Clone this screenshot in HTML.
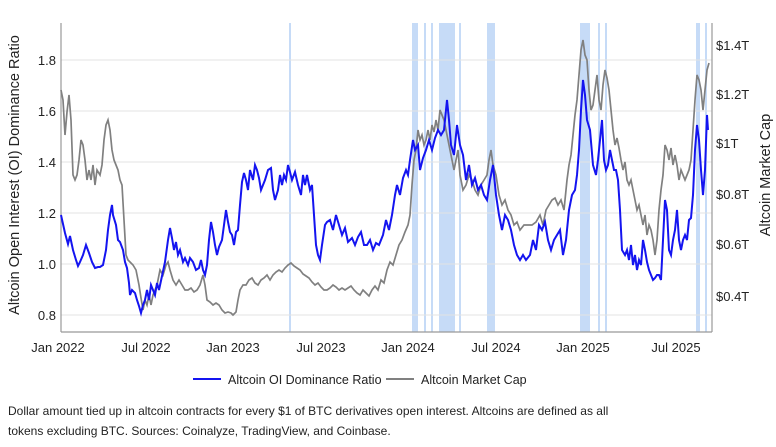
<!DOCTYPE html>
<html><head><style>
body{margin:0;background:#fff;width:776px;height:442px;overflow:hidden;font-family:"Liberation Sans",sans-serif;}
</style></head><body>
<svg width="776" height="442" xmlns="http://www.w3.org/2000/svg" font-family="Liberation Sans, sans-serif">
<g fill="#c6dbf7">
<rect x="289" y="23" width="2" height="309"/>
<rect x="412" y="23" width="6" height="309"/>
<rect x="424" y="23" width="2" height="309"/>
<rect x="431" y="23" width="2" height="309"/>
<rect x="439" y="23" width="16" height="309"/>
<rect x="459" y="23" width="2" height="309"/>
<rect x="487" y="23" width="8" height="309"/>
<rect x="580" y="23" width="10" height="309"/>
<rect x="598" y="23" width="2" height="309"/>
<rect x="605" y="23" width="2" height="309"/>
<rect x="696" y="23" width="4" height="309"/>
<rect x="705" y="23" width="2" height="309"/>
</g>
<g stroke="#e3e3e3" stroke-width="1">
<line x1="61" x2="712" y1="60" y2="60"/><line x1="61" x2="712" y1="111" y2="111"/>
<line x1="61" x2="712" y1="162" y2="162"/><line x1="61" x2="712" y1="213" y2="213"/>
<line x1="61" x2="712" y1="264" y2="264"/><line x1="61" x2="712" y1="315" y2="315"/>
</g>
<g stroke="#999" stroke-width="1.2" fill="none">
<line x1="61" y1="23" x2="61" y2="332"/><line x1="712" y1="23" x2="712" y2="332"/><line x1="61" y1="332" x2="712" y2="332"/>
</g>
<polyline fill="none" stroke="#808080" stroke-width="1.7" points="61,90 63,100 65,135 67,112 69,95 71,120 73,175 75,180 77,175 79,160 81,140 83,145 85,160 87,180 89,170 91,180 93,165 95,185 97,170 100,175 102,165 104,140 106,125 108,120 110,130 112,150 114,160 116,165 118,170 120,180 122,185 124,220 126,255 128,260 130,262 133,265 136,270 139,285 141,298 143,310 145,300 147,305 149,295 151,305 153,295 155,290 157,285 160,270 163,275 166,265 168,262 170,270 173,280 176,285 179,280 182,285 185,290 188,290 191,288 194,292 197,290 200,285 203,275 205,285 207,300 210,302 213,305 216,303 219,305 222,310 225,313 228,312 231,313 233,315 236,312 238,300 240,290 243,285 246,285 249,280 252,278 255,283 258,285 261,280 264,278 267,275 270,280 273,275 276,272 279,270 282,272 285,268 288,265 291,263 294,266 297,268 300,270 303,274 306,276 309,278 312,282 315,285 318,283 321,287 324,290 327,290 330,288 333,285 336,287 339,290 342,288 345,290 348,288 351,286 354,290 357,293 360,295 363,290 366,293 369,296 372,290 375,286 378,290 381,280 384,283 387,270 390,262 393,265 396,255 399,245 402,240 405,232 408,225 410,215 412,185 414,160 416,150 418,130 420,140 422,135 424,145 426,140 428,130 430,140 432,125 434,132 436,120 438,130 440,110 442,115 444,120 446,130 448,140 450,150 452,160 454,170 456,160 458,150 460,175 463,190 466,185 469,175 472,180 475,190 478,195 481,185 484,180 487,175 489,160 491,150 493,165 496,175 499,195 502,205 505,200 508,210 511,215 514,225 517,222 520,230 524,225 528,225 532,225 536,222 540,215 543,225 546,210 549,205 552,200 555,198 558,205 561,200 564,210 567,180 569,165 571,155 573,135 575,115 577,100 579,75 581,50 583,40 585,55 587,60 589,90 591,110 593,105 595,90 597,75 599,100 601,110 603,85 605,70 607,78 609,90 611,110 613,130 615,145 617,138 619,148 621,160 623,170 625,162 627,180 629,185 631,180 633,190 635,200 637,210 639,205 641,215 643,225 645,215 647,235 649,225 651,230 653,240 655,255 657,240 659,210 661,190 663,175 665,145 667,150 669,160 671,148 673,165 675,155 677,165 679,180 681,170 683,175 685,180 687,175 689,170 691,160 693,130 695,100 697,75 699,80 701,90 703,110 705,90 707,70 709,63"/>
<polyline fill="none" stroke="#1414f0" stroke-width="2" points="61,215 65,233 68,244 70,236 73,250 76,260 78,266 80,262 83,255 86,245 89,253 92,262 95,268 98,267 100,267 103,265 106,250 108,230 110,215 112,205 113,215 116,225 118,240 120,242 123,250 125,262 127,268 129,283 130,295 132,290 135,293 137,300 139,306 141,313 143,305 145,300 147,290 149,300 151,285 153,290 155,295 157,283 159,290 162,276 165,262 168,240 170,228 172,238 174,250 176,242 178,255 180,250 183,262 185,258 188,265 190,258 193,262 196,270 199,268 201,260 203,270 205,275 207,265 209,240 211,222 213,232 215,245 217,255 219,247 222,240 224,225 226,210 228,222 230,232 232,235 234,245 236,232 238,230 240,205 242,182 244,173 246,180 248,190 250,170 253,180 255,165 257,170 259,178 261,190 263,185 265,180 268,170 271,168 273,190 275,200 278,190 280,175 282,185 284,175 286,180 288,165 290,172 292,180 295,172 298,185 301,195 303,175 305,185 307,175 310,190 312,185 314,215 316,245 318,255 320,260 322,245 325,225 327,222 330,220 333,230 336,215 339,225 342,235 345,228 348,242 352,238 355,245 358,237 361,232 364,245 367,245 370,240 373,250 376,243 379,245 383,235 386,220 389,230 392,215 395,195 397,185 400,195 403,178 406,170 408,175 410,160 413,140 415,150 418,145 420,170 423,158 426,150 429,140 432,150 435,138 438,130 441,135 444,130 447,100 449,120 451,145 454,155 457,125 460,145 463,155 466,180 469,165 472,185 475,178 478,190 481,185 484,195 487,200 490,180 493,165 496,195 499,215 502,230 505,215 508,220 511,230 514,245 517,255 520,260 523,255 526,260 530,255 533,240 536,250 539,225 542,230 545,222 548,240 551,250 554,240 557,235 560,230 563,255 566,240 569,210 572,195 575,190 577,175 579,150 581,110 583,80 585,95 587,120 590,130 593,165 596,175 598,160 600,140 602,120 604,160 606,170 608,165 610,150 612,160 614,170 616,170 618,180 620,210 622,250 625,255 627,250 629,260 631,245 633,265 635,255 637,270 639,260 641,265 643,240 645,250 647,262 649,270 651,275 653,280 655,278 657,275 659,275 661,280 663,240 665,200 667,210 669,250 671,255 673,240 675,230 677,210 679,240 681,250 683,240 685,235 687,240 689,220 691,218 693,195 695,150 697,125 699,140 701,170 703,195 705,170 707,115 708,130"/>
<g font-size="13" fill="#222" text-anchor="end">
<text x="56" y="65">1.8</text><text x="56" y="116">1.6</text><text x="56" y="167">1.4</text>
<text x="56" y="218">1.2</text><text x="56" y="269">1.0</text><text x="56" y="320">0.8</text>
</g>
<g font-size="13" fill="#222">
<text x="716" y="50">$1.4T</text><text x="716" y="99">$1.2T</text><text x="716" y="148">$1T</text>
<text x="716" y="199">$0.8T</text><text x="716" y="249">$0.6T</text><text x="716" y="301">$0.4T</text>
</g>
<g font-size="13" fill="#222" text-anchor="middle">
<text x="58" y="352">Jan 2022</text><text x="146" y="352">Jul 2022</text><text x="233" y="352">Jan 2023</text>
<text x="321" y="352">Jul 2023</text><text x="408" y="352">Jan 2024</text><text x="496" y="352">Jul 2024</text>
<text x="583" y="352">Jan 2025</text><text x="676" y="352">Jul 2025</text>
</g>
<text transform="translate(19,175) rotate(-90)" font-size="14.5" fill="#222" text-anchor="middle">Altcoin Open Interest (OI) Dominance Ratio</text>
<text transform="translate(770,175) rotate(-90)" font-size="14.5" fill="#222" text-anchor="middle">Altcoin Market Cap</text>
<line x1="193" y1="379" x2="221" y2="379" stroke="#1414f0" stroke-width="2"/>
<text x="228" y="384" font-size="12.5" fill="#222">Altcoin OI Dominance Ratio</text>
<line x1="386" y1="379" x2="414" y2="379" stroke="#808080" stroke-width="2"/>
<text x="421" y="384" font-size="12.5" fill="#222">Altcoin Market Cap</text>
<text x="8" y="415" font-size="12" fill="#222">Dollar amount tied up in altcoin contracts for every $1 of BTC derivatives open interest. Altcoins are defined as all</text>
<text x="8" y="435" font-size="12" fill="#222">tokens excluding BTC. Sources: Coinalyze, TradingView, and Coinbase.</text>
</svg>
</body></html>
